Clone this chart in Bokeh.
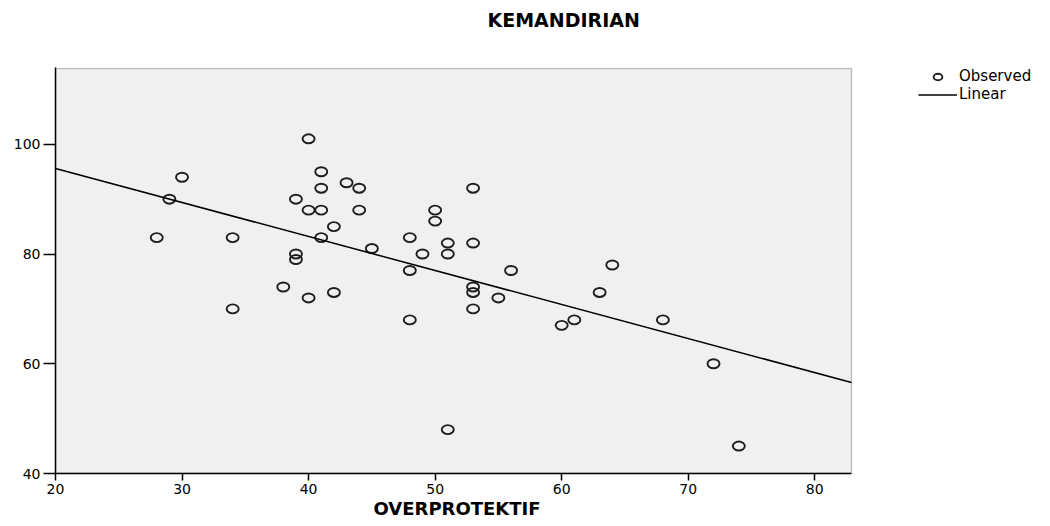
from bokeh.plotting import figure
from bokeh.models import Range1d, Legend, LegendItem, ColumnDataSource, Title, BoxAnnotation
from bokeh.embed import file_html
from bokeh.resources import INLINE

# ---- data ----
overprotektif = [28, 29, 30, 34, 34, 38, 39, 39, 39, 40, 40, 40, 41, 41, 41, 41,
                 42, 42, 43, 44, 44, 45, 48, 48, 48, 49, 50, 50, 51, 51, 51, 53,
                 53, 53, 53, 53, 55, 56, 60, 61, 63, 64, 68, 72, 74]
kemandirian = [83, 90, 94, 83, 70, 74, 90, 80, 79, 101, 88, 72, 95, 92, 88, 83,
               85, 73, 93, 92, 88, 81, 83, 77, 68, 80, 88, 86, 82, 80, 48, 92,
               82, 74, 73, 70, 72, 77, 67, 68, 73, 78, 68, 60, 45]
fit_intercept = 108.0
fit_slope = -0.62
x_limits = [20, 82.9]     # plot-area extent on the x axis
y_limits = [40, 113.8]    # plot-area extent on the y axis
x_ticks = [20, 30, 40, 50, 60, 70, 80]
y_ticks = [40, 60, 80, 100]

FONT = "DejaVu Sans"

# frame spans the whole width so the legend (outside the plot area) is not clipped;
# the grey plot area is drawn as a box over x_limits / y_limits
x_view_end = 98.63
y_view_end = 114.0

p = figure(width=1050, height=526, output_backend="svg", toolbar_location=None,
           x_range=Range1d(x_limits[0], x_view_end),
           y_range=Range1d(y_limits[0], y_view_end),
           min_border_left=55, min_border_top=67, min_border_right=0,
           min_border_bottom=53)

p.background_fill_color = "white"
p.border_fill_color = "white"
p.outline_line_color = None
p.grid.visible = False

plot_area = BoxAnnotation(left=x_limits[0], right=x_limits[1],
                          bottom=y_limits[0], top=y_limits[1],
                          fill_color="#f0f0f0", fill_alpha=1.0,
                          line_color="#3c3c3c", line_width=1.5, level="underlay")
p.add_layout(plot_area)

# axes
p.xaxis.ticker = x_ticks
p.yaxis.ticker = y_ticks
p.xaxis.bounds = (x_limits[0], x_limits[1])
for ax in (p.xaxis, p.yaxis):
    ax.axis_line_color = "black"
    ax.axis_line_width = 1.5
    ax.major_tick_line_color = "black"
    ax.major_tick_line_width = 1.5
    ax.major_tick_in = 0
    ax.minor_tick_line_color = None
    ax.major_label_text_font = FONT
    ax.major_label_text_font_size = "14px"
    ax.major_label_text_color = "black"
    ax.major_label_standoff = 3
p.xaxis.major_tick_out = 7
p.yaxis.major_tick_out = 12

# x-axis title, centred under the plot area
xlabel = Title(text="OVERPROTEKTIF", align="left", offset=318, vertical_align="top",
               standoff=2, text_font=FONT, text_font_size="18px",
               text_font_style="bold", text_color="black")
p.add_layout(xlabel, "below")

# observed points
src = ColumnDataSource(dict(x=overprotektif, y=kemandirian))
r_pts = p.ellipse(x="x", y="y", width=12, height=9, width_units="screen",
                  height_units="screen", source=src, fill_color=None,
                  line_color="#1e1e1e", line_width=1.9)

# linear fit across the plot area
line_y = [fit_intercept + fit_slope * x for x in x_limits]
r_line = p.line(x=x_limits, y=line_y, line_color="black", line_width=1.5)

# title (spacer + title stacked above the frame)
spacer_top = Title(text=" ", text_font_size="10px", standoff=14)
title = Title(text="KEMANDIRIAN", align="left", offset=432, vertical_align="top",
              standoff=16, text_font=FONT, text_font_size="19px",
              text_font_style="bold", text_color="black")
p.add_layout(spacer_top, "above")
p.add_layout(title, "above")

legend = Legend(items=[LegendItem(label="Observed", renderers=[r_pts]),
                       LegendItem(label="Linear", renderers=[r_line])],
                location=(863, 370), glyph_width=39, glyph_height=11,
                label_height=17, spacing=0, padding=0, margin=0,
                label_standoff=2, border_line_color=None,
                background_fill_alpha=0, label_text_font=FONT,
                label_text_font_size="15px", label_text_color="black")
p.add_layout(legend)

open("out.html", "w").write(file_html(p, INLINE))
